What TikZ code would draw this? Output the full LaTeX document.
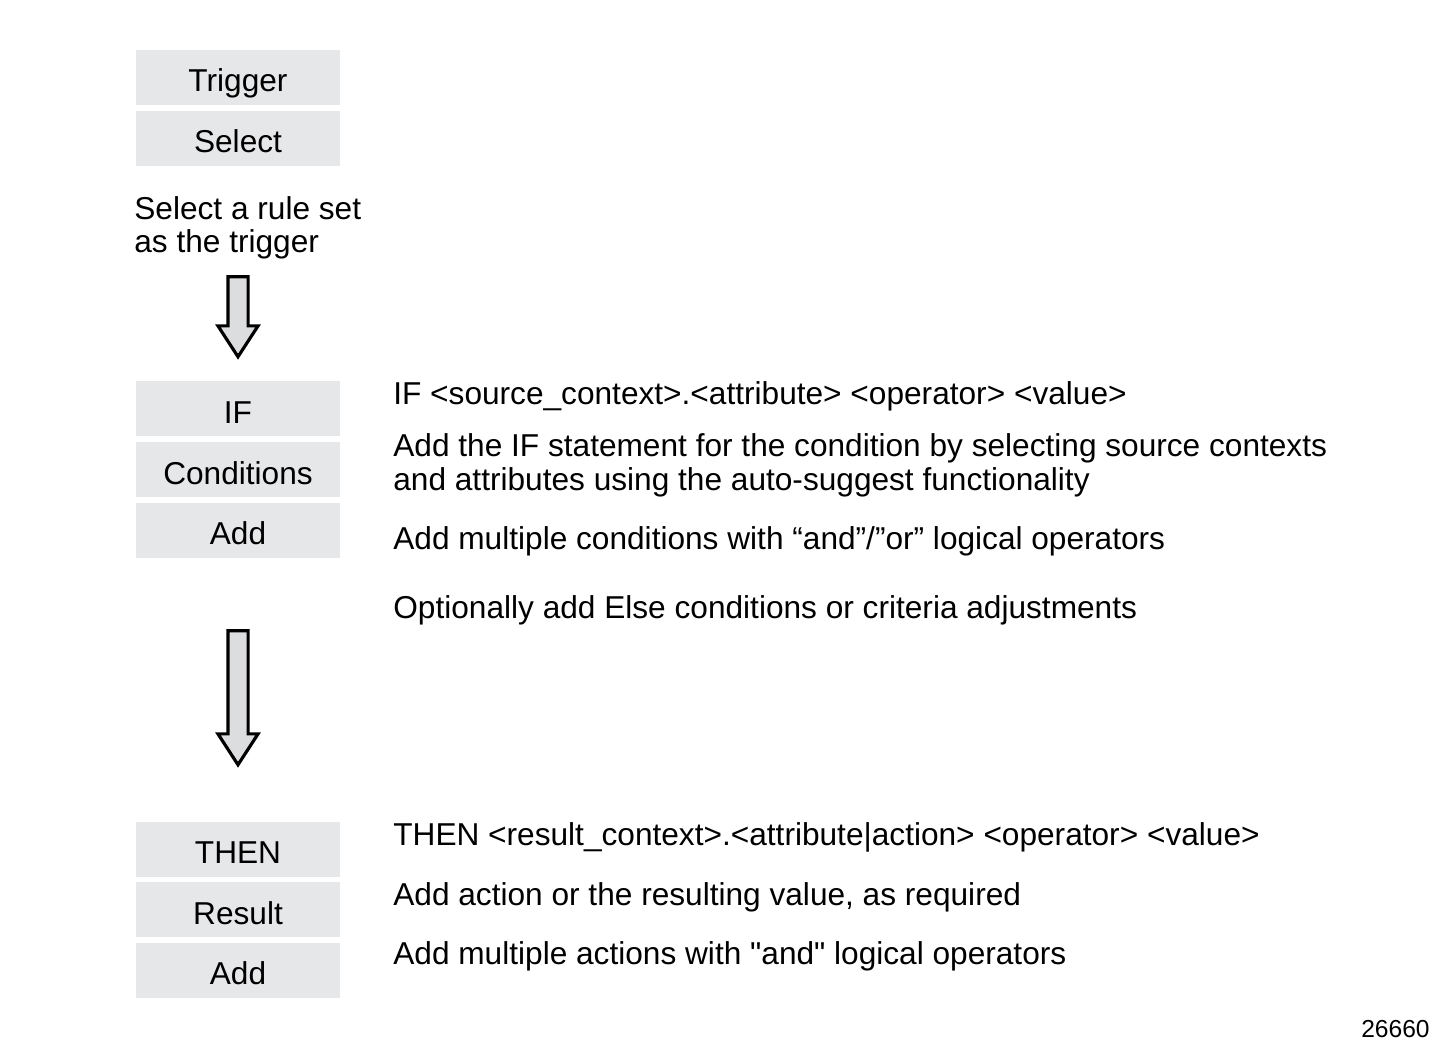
\documentclass[tikz,border=0pt]{standalone}
\usepackage{fontspec}
\setmainfont{Liberation Sans}
\usetikzlibrary{positioning, shapes.arrows}
\definecolor{boxgray}{HTML}{E6E7E8}
\definecolor{arrowgray}{HTML}{DCDDDE}

\begin{document}
\begin{tikzpicture}[node distance=0.1cm, font=\fontsize{18}{19.5}\selectfont]
  \tikzstyle{stepbox}=[fill=boxgray, align=center, minimum width=4.08cm, minimum height=1.1cm, inner sep=0, text height=0.58cm, text depth=0pt]
  \tikzstyle{downarrow}=[single arrow, draw=black, line width=1.8pt, fill=arrowgray, rotate=-90, inner xsep=0, inner ysep=0.17cm, single arrow head extend=0.2cm, single arrow tip angle=66]
  \tikzstyle{note}=[anchor=base west, inner sep=0, align=left]

  \useasboundingbox (0,0) rectangle (28.7,-20.94);

  % Trigger block
  \node[stepbox] at (4.76,-1.55) (trig) {Trigger};
  \node[stepbox, below=of trig] (sel) {Select};
  \node[anchor=west, inner sep=0, align=left, font=\fontsize{18}{18.8}\selectfont] at (2.68,-4.55) (seltxt) {Select a rule set\\as the trigger};
  \node[downarrow, minimum height=1.6cm] at (4.76,-6.18) (arr1) {};

  % IF block
  \node[stepbox] at (4.76,-8.18) (if) {IF};
  \node[stepbox, below=of if] (cond) {Conditions};
  \node[stepbox, below=of cond] (addc) {Add};
  \node[note] at (7.86,-8.10) (iftxt) {IF <source\_context>.<attribute> <operator> <value>};
  \node[note] at (7.86,-9.82) (iftxt2) {Add the IF statement for the condition by selecting source contexts\\and attributes using the auto-suggest functionality};
  \node[note] at (7.86,-10.98) (iftxt3) {Add multiple conditions with “and”/”or” logical operators};
  \node[note] at (7.86,-12.36) (iftxt4) {Optionally add Else conditions or criteria adjustments};
  \node[downarrow, minimum height=2.68cm] at (4.76,-13.80) (arr2) {};

  % THEN block
  \node[stepbox] at (4.76,-16.98) (then) {THEN};
  \node[stepbox, below=of then] (res) {Result};
  \node[stepbox, below=of res] (adda) {Add};
  \node[note] at (7.86,-16.90) (thentxt) {THEN <result\_context>.<attribute|action> <operator> <value>};
  \node[note] at (7.86,-18.10) (thentxt2) {Add action or the resulting value, as required};
  \node[note] at (7.86,-19.28) (thentxt3) {Add multiple actions with \textquotedbl and\textquotedbl\ logical operators};

  \node[anchor=base east, inner sep=0, font=\fontsize{14}{16}\selectfont] at (28.6,-20.74) (fig) {26660};
\end{tikzpicture}
\end{document}
